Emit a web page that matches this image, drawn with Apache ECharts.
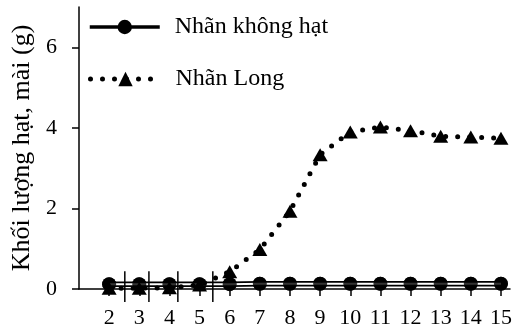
<!DOCTYPE html>
<html>
<head>
<meta charset="utf-8">
<script src="https://cdn.jsdelivr.net/npm/echarts@6/dist/echarts.min.js"></script>
<style>
  html, body { margin: 0; padding: 0; background: #fff; }
  #chart { width: 517px; height: 336px; }
</style>
</head>
<body>
<div id="chart"></div>
<script>
// tuần sau đậu trái
const weeks = [2, 3, 4, 5, 6, 7, 8, 9, 10, 11, 12, 13, 14, 15];
const khongHat = [0.12, 0.12, 0.12, 0.12, 0.12, 0.13, 0.13, 0.13, 0.13, 0.13, 0.13, 0.13, 0.13, 0.13];
const nhanLong = [0.02, 0.02, 0.03, 0.1, 0.43, 0.98, 1.93, 3.33, 3.9, 4.02, 3.93, 3.79, 3.77, 3.74];
const yTicks = [0, 2, 4, 6];
// stray vertical strokes near the axis: [x, yLow, yHigh]
const strayLines = [[2.52, -0.32, 0.44], [3.32, -0.32, 0.44], [4.28, -0.32, 0.44], [5.44, -0.32, 0.44]];

const font = '"Liberation Serif", "Times New Roman", serif';
const pairs = (ys) => weeks.map((w, i) => [w, ys[i]]);

const myChart = echarts.init(document.getElementById('chart'));
const option = {
  animation: false,
  grid: { left: 79, right: 7, top: 7, bottom: 47 },
  legend: [
    {
      left: 83, top: 10, itemWidth: 70, itemHeight: 18,
      data: [{ name: 'Nhãn không hạt', lineStyle: { width: 3.5 } }],
      textStyle: { fontFamily: font, fontSize: 24, color: '#000', padding: [26, 0, 0, 10] }
    },
    {
      left: 83, top: 62, itemWidth: 70, itemHeight: 18,
      data: [{ name: 'Nhãn Long', lineStyle: { width: 5 } }],
      textStyle: { fontFamily: font, fontSize: 24, color: '#000', padding: [17, 0, 0, 10] }
    }
  ],
  xAxis: {
    type: 'value', min: 1, max: 15.3, interval: 1,
    splitLine: { show: false },
    axisLine: { lineStyle: { color: '#000', width: 1.5 } },
    axisTick: { customValues: weeks, length: 7, lineStyle: { color: '#000', width: 1.5 } },
    axisLabel: { customValues: weeks, margin: 18, fontFamily: font, fontSize: 22, color: '#000' }
  },
  yAxis: {
    type: 'value', min: 0, max: 7, interval: 1,
    name: 'Khối lượng hạt, mài (g)',
    nameLocation: 'middle', nameGap: 43,
    nameTextStyle: { fontFamily: font, fontSize: 26, color: '#000' },
    splitLine: { show: false },
    axisLine: { show: true, lineStyle: { color: '#000', width: 1.5 } },
    axisTick: { customValues: yTicks, length: 7, lineStyle: { color: '#000', width: 1.5 } },
    axisLabel: { customValues: yTicks, margin: 22, fontFamily: font, fontSize: 22, color: '#000' }
  },
  series: [
    {
      name: 'Nhãn không hạt', type: 'line', z: 2,
      data: pairs(khongHat),
      symbol: 'circle', symbolSize: 14,
      itemStyle: { color: '#000' },
      lineStyle: { color: '#000', width: 5.5 }
    },
    {
      name: 'gap', type: 'line', z: 3, silent: true,
      data: pairs(khongHat),
      symbol: 'none',
      lineStyle: { color: '#fff', width: 2 }
    },
    {
      name: 'Nhãn Long', type: 'line', z: 3,
      data: pairs(nhanLong),
      symbol: 'triangle', symbolSize: [15, 13],
      itemStyle: { color: '#000' },
      lineStyle: { color: '#000', width: 5, type: [0, 12], cap: 'round' }
    },
    {
      name: 'markers', type: 'scatter', z: 4,
      data: pairs(khongHat),
      symbol: 'circle', symbolSize: 14,
      itemStyle: { color: '#000' }
    },
    {
      name: 'stray', type: 'custom', z: 4, clip: false,
      data: strayLines,
      renderItem: (params, api) => {
        const p1 = api.coord([api.value(0), api.value(1)]);
        const p2 = api.coord([api.value(0), api.value(2)]);
        return {
          type: 'line',
          shape: { x1: p1[0], y1: p1[1], x2: p2[0], y2: p2[1] },
          style: { stroke: '#000', lineWidth: 1.5 }
        };
      }
    }
  ]
};
myChart.setOption(option);
</script>
</body>
</html>
